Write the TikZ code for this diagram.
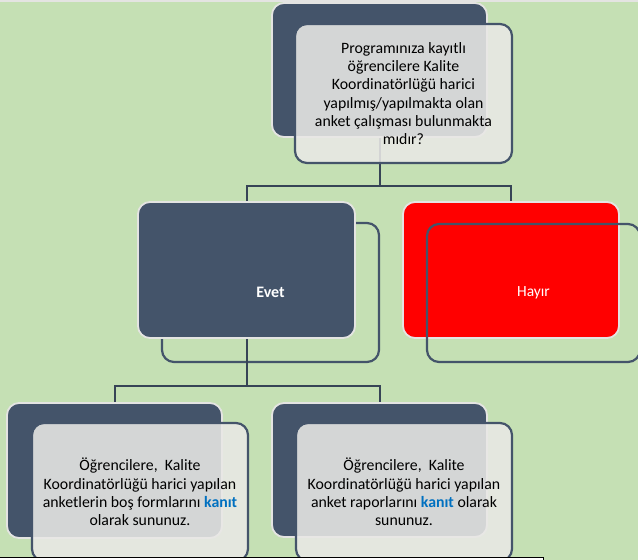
\documentclass[tikz,border=0pt]{standalone}
\usepackage{fontspec}
\setmainfont{Carlito}
\definecolor{bggreen}{RGB}{197,224,180}
\definecolor{darkbox}{RGB}{68,84,106}
\definecolor{connline}{RGB}{55,68,86}
\definecolor{rimlight}{RGB}{228,228,226}
\definecolor{frontfill}{RGB}{233,232,230}
\definecolor{kanitblue}{RGB}{0,112,192}
\definecolor{hayirred}{RGB}{255,0,0}
\newcommand{\kanit}{\textcolor{kanitblue}{\textbf{kanıt}}}
\begin{document}
\begin{tikzpicture}[x=1pt,y=-1pt,
  backbox/.style={draw=rimlight, line width=1.8pt, fill=darkbox, rounded corners=12pt, inner sep=0pt},
  frontbox/.style={draw=darkbox, line width=2.2pt, fill=frontfill, fill opacity=0.88, text opacity=1, rounded corners=12pt, inner sep=0pt, align=center, font=\fontsize{15.8}{18.2}\selectfont},
  ringbox/.style={draw=darkbox, line width=2.2pt, rounded corners=12pt, inner sep=0pt},
  conn/.style={draw=connline, line width=2pt},
  lbl/.style={text=white, font=\fontsize{15.5}{18}\selectfont}]
\useasboundingbox (0,0) rectangle (638,560);
\clip (0,0) rectangle (638,560);
\fill[bggreen] (0,0) rectangle (638,560);
\fill[rimlight] (0,0) rectangle (638,1.5);

% coordinates for junctions
\coordinate (j1) at (379.5,186);
\coordinate (j2) at (246.5,386);

% top
\node[backbox, minimum width=215pt, minimum height=134pt] (topback) at (379.5,70) {};
% level 2
\node[ringbox, minimum width=217pt, minimum height=139pt] (evetfront) at (270.5,292.5) {};
\node[backbox, minimum width=217pt, minimum height=136pt] (evetback) at (246.5,270) {};
\node[backbox, draw=rimlight, fill=hayirred, minimum width=216pt, minimum height=136pt] (hayirback) at (511,270) {};
\node[ringbox, minimum width=213pt, minimum height=138pt] (hayirfront) at (533.5,293) {};
% level 3 back boxes
\node[backbox, minimum width=215pt, minimum height=135pt] (blback) at (114.5,470.5) {};
\node[backbox, minimum width=215pt, minimum height=134pt] (brback) at (379.5,470) {};

% connectors
\draw[conn] (topback.south) -- (j1) -| (evetback.north);
\draw[conn] (j1) -| (hayirback.north);
\draw[conn] (evetback.south) -- (j2) -| (blback.north);
\draw[conn] (j2) -| (brback.north);

% labels
\node[lbl, font=\fontsize{16}{18}\selectfont\bfseries] (evettxt) at (evetfront.center) {Evet};
\node[lbl] (hayirtxt) at (hayirfront.center) {Hayır};

% front text boxes
\node[frontbox, minimum width=217pt, minimum height=139pt] (topfront) at (403.5,93.5)
  {Programınıza kayıtlı\\öğrencilere Kalite\\Koordinatörlüğü harici\\yapılmış/yapılmakta olan\\anket çalışması bulunmakta\\mıdır?};
\node[frontbox, minimum width=216pt, minimum height=138pt] (blfront) at (140,492)
  {Öğrencilere,~ Kalite\\Koordinatörlüğü harici yapılan\\anketlerin boş formlarını \kanit\\olarak sununuz.};
\node[frontbox, minimum width=216pt, minimum height=138pt] (brfront) at (404,492)
  {Öğrencilere,~ Kalite\\Koordinatörlüğü harici yapılan\\anket raporlarını \kanit{} olarak\\sununuz.};

% bottom border
\fill[white] (0,557.5) rectangle (543,560);
\draw[black, line width=1pt] (0,557.5) -- (543,557.5) -- (543,560);
\end{tikzpicture}
\end{document}
